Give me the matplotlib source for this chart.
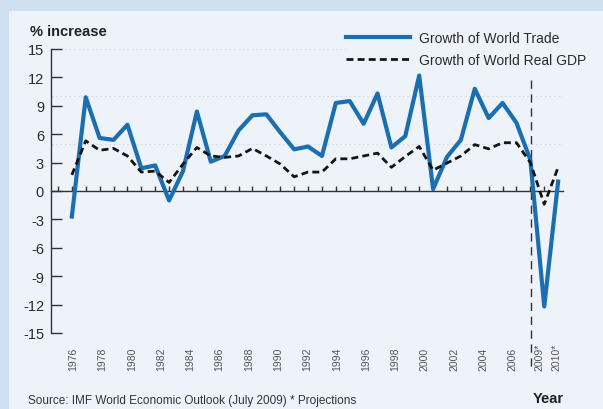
import matplotlib
matplotlib.use('Agg')
import matplotlib.pyplot as plt
from matplotlib.patches import Rectangle

# data (1975-2010, last two are projections)
years = list(range(1975, 2011))
world_trade = [-2.7, 9.9, 5.6, 5.4, 7.0, 2.4, 2.7, -1.0, 2.1, 8.4,
               3.1, 3.7, 6.4, 8.0, 8.1, 6.2, 4.4, 4.7, 3.7, 9.3,
               9.5, 7.1, 10.3, 4.6, 5.8, 12.2, 0.2, 3.6, 5.4, 10.8,
               7.7, 9.3, 7.2, 3.3, -12.2, 1.0]
world_gdp = [1.7, 5.3, 4.3, 4.5, 3.7, 2.0, 2.1, 0.9, 2.85, 4.6,
             3.7, 3.55, 3.7, 4.5, 3.7, 2.85, 1.5, 2.0, 2.0, 3.4,
             3.4, 3.7, 4.0, 2.5, 3.65, 4.7, 2.2, 2.95, 3.7, 4.9,
             4.45, 5.1, 5.1, 3.0, -1.4, 2.5]
series_names = ['Growth of World Trade', 'Growth of World Real GDP']
year_labels = ['1976', '1978', '1980', '1982', '1984', '1986', '1988', '1990',
               '1992', '1994', '1996', '1998', '2000', '2002', '2004', '2006',
               '2009*', '2010*']
y_ticks = list(range(-15, 16, 3))
grid_levels = [5, 10, 15]
projection_start = 2008.05

W, H = 603, 410
bg = '#cfe0f0'
panel = '#eef3fa'
blue = '#1b6fb0'
ink = '#2b2b2b'

plt.rcParams['font.family'] = ['Liberation Sans', 'DejaVu Sans']

fig = plt.figure(figsize=(W / 100, H / 100), dpi=100, facecolor=bg)
fig.patches.append(Rectangle((9 / W, 0), 1 - 9 / W, 1 - 12 / H, transform=fig.transFigure,
                             facecolor=panel, edgecolor='none', zorder=-10))

ax = fig.add_axes([51 / W, 1 - 334 / H, (563 - 51) / W, 284 / H])
ax.set_facecolor('none')
ax.set_zorder(2)

for g in grid_levels:
    ax.axhline(g, color='#d9e0e8', lw=0.8, ls=(0, (2, 2)), zorder=1)

ax.plot(years, world_trade, color=blue, lw=3.0, label=series_names[0], zorder=3)
ax.plot(years, world_gdp, color='#151515', lw=2.0, ls=(0, (2.5, 1.5)),
        label=series_names[1], zorder=4)

ax.axvline(projection_start, ymin=0.89, ymax=-0.135, color='#333333', lw=1.0,
           ls=(0, (6, 4)), clip_on=False, zorder=2)

ax.set_xlim(1973.5, 2010.35)
ax.set_ylim(-15, 15)

ax.spines['top'].set_visible(False)
ax.spines['right'].set_visible(False)
ax.spines['bottom'].set_position(('data', 0))
for s in ('left', 'bottom'):
    ax.spines[s].set_color('#333333')
    ax.spines[s].set_linewidth(1.0)

ax.set_yticks(y_ticks)
ax.set_yticklabels([str(v) for v in y_ticks])
ax.tick_params(axis='y', direction='in', length=8, width=1.0, pad=5,
               labelsize=10.5, labelcolor=ink, color='#333333')
ax.set_xticks(list(range(1974, 2010)))
ax.tick_params(axis='x', direction='in', length=3.5, width=1.0,
               labelbottom=False, color='#333333')

# year labels sit below the plot, slightly wider spaced than the data
label_x = [1975.1 + 1.054 * 2 * i for i in range(16)] + [2008.65, 2009.85]
for x, lab in zip(label_x, year_labels):
    ax.text(x, -0.13, lab, transform=ax.get_xaxis_transform(), rotation=90,
            ha='center', va='bottom', fontsize=7.5, color='#555555')

leg = ax.legend(loc='upper left', bbox_to_anchor=(346 / W, 1 - 32 / H),
                bbox_transform=fig.transFigure, handlelength=4.6, handletextpad=0.65,
                labelspacing=0.6, borderpad=0, borderaxespad=0, fontsize=10,
                frameon=True, facecolor=panel, edgecolor='none', framealpha=1)
for t in leg.get_texts():
    t.set_color(ink)

fig.text(30 / W, 1 - 32 / H, '% increase', fontsize=10.5, fontweight='bold',
         va='center', color='#222222')
fig.text(28 / W, 1 - 401 / H, 'Source: IMF World Economic Outlook (July 2009) * Projections',
         fontsize=8.5, va='center', color='#333333')
fig.text(533 / W, 1 - 399 / H, 'Year', fontsize=10.5, fontweight='bold',
         va='center', color='#222222')

fig.savefig('out.png', dpi=100, facecolor=bg)
